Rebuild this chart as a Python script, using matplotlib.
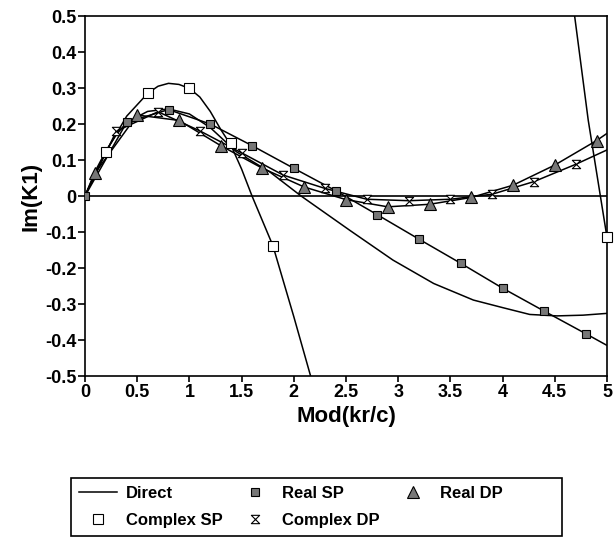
import numpy as np
import matplotlib.pyplot as plt
from matplotlib.path import Path
from matplotlib.patches import Rectangle

plt.rcParams['font.family'] = ['Liberation Sans', 'DejaVu Sans']

# curves
direct_x = [0, 0.1, 0.2, 0.3, 0.4, 0.6, 0.8, 1.0, 1.2, 1.45, 1.77, 2.07, 2.54, 2.95, 3.34, 3.72, 4.0, 4.26, 4.52, 4.77, 5.0]
direct_y = [0, 0.07, 0.125, 0.17, 0.205, 0.235, 0.242, 0.228, 0.19, 0.123, 0.067, 0.0, -0.096, -0.178, -0.243, -0.289, -0.31, -0.329, -0.333, -0.331, -0.326]

csp_line_x = [0, 0.2, 0.4, 0.6, 0.7, 0.8, 0.9, 1.0, 1.1, 1.2, 1.3, 1.4, 1.5, 1.6, 1.8, 2.0, 2.2, np.nan, 4.6, 4.69, 4.82, 5.0]
csp_line_y = [0, 0.123, 0.222, 0.285, 0.305, 0.313, 0.31, 0.299, 0.275, 0.235, 0.185, 0.14, 0.075, 0.0, -0.138, -0.335, -0.54, np.nan, 0.72, 0.5, 0.211, -0.115]

# marker series
rsp_x = [0, 0.4, 0.8, 1.2, 1.6, 2.0, 2.4, 2.8, 3.2, 3.6, 4.0, 4.4, 4.8]
rsp_y = [0, 0.205, 0.24, 0.2, 0.14, 0.077, 0.015, -0.052, -0.12, -0.187, -0.256, -0.32, -0.383]
rsp_end = -0.415

rdp_x = [0.1, 0.5, 0.9, 1.3, 1.7, 2.1, 2.5, 2.9, 3.3, 3.7, 4.1, 4.5, 4.9]
rdp_y = [0.065, 0.225, 0.21, 0.14, 0.077, 0.025, -0.01, -0.03, -0.023, -0.004, 0.03, 0.086, 0.154]
rdp_end = 0.174

csp_x = [0.2, 0.6, 1.0, 1.4, 1.8, 5.0]
csp_y = [0.123, 0.287, 0.299, 0.146, -0.138, -0.115]

cdp_x = [0.3, 0.7, 1.1, 1.5, 1.9, 2.3, 2.7, 3.1, 3.5, 3.9, 4.3, 4.7]
cdp_y = [0.18, 0.234, 0.181, 0.12, 0.058, 0.021, -0.009, -0.013, -0.009, 0.005, 0.04, 0.088]
cdp_end = 0.128

hourglass = Path([(-1, 1), (1, 1), (-1, -1), (1, -1), (-1, 1)],
                 [Path.MOVETO, Path.LINETO, Path.LINETO, Path.LINETO, Path.CLOSEPOLY])

gray = '#777777'

fig = plt.figure(figsize=(6.14, 5.47), dpi=100)
ax = fig.add_axes([0.1384, 0.3126, 0.8502, 0.6581])

ax.axhline(0, color='black', lw=1.2, zorder=1)

# lines
h_direct, = ax.plot(direct_x, direct_y, color='black', lw=1.1, label='Direct')
ax.plot(csp_line_x, csp_line_y, color='black', lw=1.1)
ax.plot([0] + rsp_x[1:] + [5], rsp_y + [rsp_end], color='black', lw=1.1)
ax.plot([0] + rdp_x + [5], [0] + rdp_y + [rdp_end], color='black', lw=1.1)
ax.plot([0] + cdp_x + [5], [0] + cdp_y + [cdp_end], color='black', lw=1.1)

# markers
h_rsp, = ax.plot(rsp_x, rsp_y, ls='none', marker='s', ms=6, mfc=gray, mec='black', mew=0.8, label='Real SP', zorder=4)
h_rdp, = ax.plot(rdp_x, rdp_y, ls='none', marker='^', ms=8, mfc=gray, mec='black', mew=0.8, label='Real DP', zorder=4)
h_csp, = ax.plot(csp_x, csp_y, ls='none', marker='s', ms=7, mfc='white', mec='black', mew=0.8, label='Complex SP', zorder=4, clip_on=False)
h_cdp, = ax.plot(cdp_x, cdp_y, ls='none', marker=hourglass, ms=6, mfc='white', mec='black', mew=0.8, label='Complex DP', zorder=4)

ax.set_xlim(0, 5)
ax.set_ylim(-0.5, 0.5)
ax.set_xticks(np.arange(0, 5.01, 0.5))
ax.set_xticklabels(['0', '0.5', '1', '1.5', '2', '2.5', '3', '3.5', '4', '4.5', '5'])
ax.set_yticks(np.arange(-0.5, 0.51, 0.1))
ax.set_yticklabels(['-0.5', '-0.4', '-0.3', '-0.2', '-0.1', '0', '0.1', '0.2', '0.3', '0.4', '0.5'])
ax.tick_params(axis='x', direction='out', length=4, width=1.2, pad=2, labelsize=13)
ax.tick_params(axis='y', direction='out', length=5, width=1.2, pad=1, labelsize=13)
for lab in ax.get_xticklabels() + ax.get_yticklabels():
    lab.set_fontweight('bold')
for s in ax.spines.values():
    s.set_linewidth(1.2)

ax.set_xlabel('Mod(kr/c)', fontsize=16, fontweight='bold', labelpad=3)
ax.set_ylabel('Im(K1)', fontsize=16, fontweight='bold', labelpad=3)

# legend
fig.legend([h_direct, h_csp, h_rsp, h_cdp, h_rdp],
           ['Direct', 'Complex SP', 'Real SP', 'Complex DP', 'Real DP'],
           ncol=3, loc='upper left', bbox_to_anchor=(79 / 614, 1 - 486 / 547),
           frameon=False, borderpad=0, borderaxespad=0, handlelength=2.3,
           handletextpad=0.5, columnspacing=0.8, labelspacing=0.7,
           prop={'weight': 'bold', 'size': 12})
fig.add_artist(Rectangle((71 / 614, 1 - 536 / 547), 491 / 614, 58 / 547,
                         transform=fig.transFigure, fill=False, lw=1.2, color='black'))

fig.savefig('out.png', dpi=100)
